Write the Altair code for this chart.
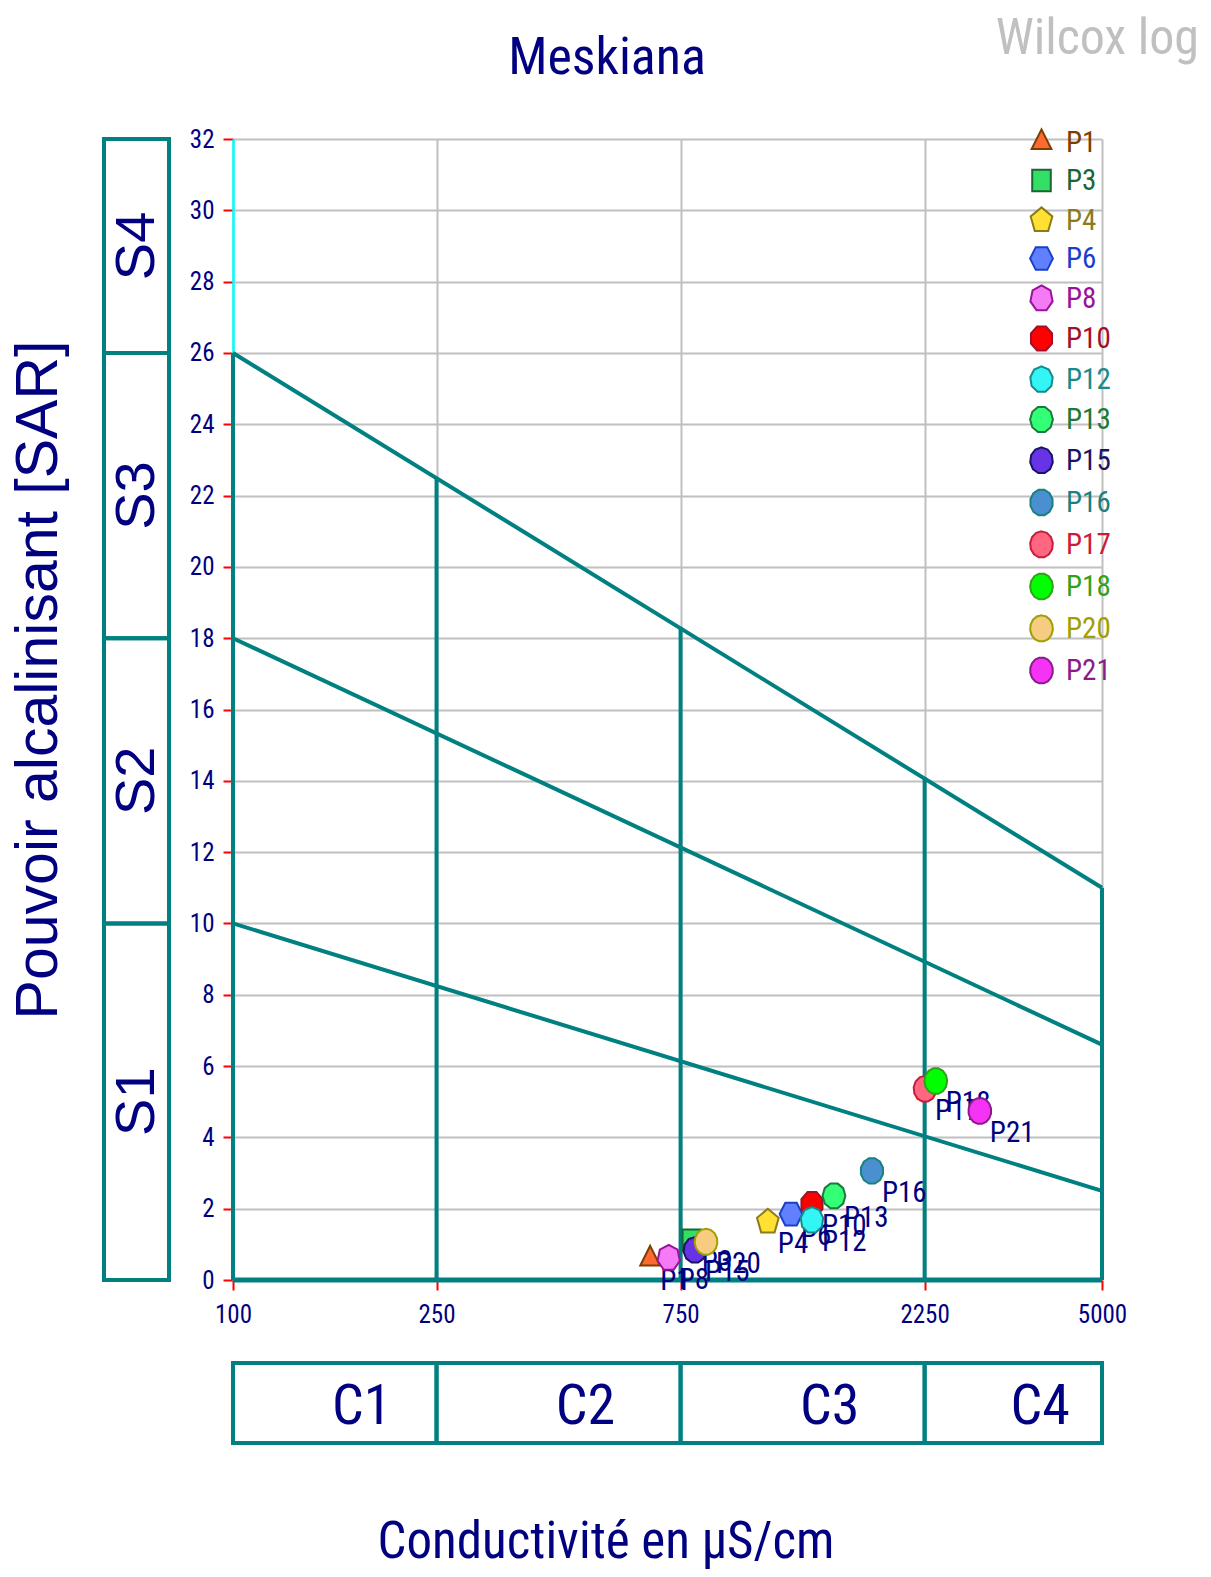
import altair as alt
import pandas as pd
import numpy as np

# ---------------- data ----------------
title_text = "Meskiana"
watermark = "Wilcox log"
x_title = "Conductivité en µS/cm"
y_title = "Pouvoir alcalinisant [SAR]"

names = ["P1", "P3", "P4", "P6", "P8", "P10", "P12", "P13", "P15", "P16", "P17", "P18", "P20", "P21"]
ec = [654, 789, 1111, 1233, 711, 1355, 1355, 1496, 800, 1775, 2254, 2366, 841, 2885]
sar = [0.59, 1.12, 1.63, 1.85, 0.62, 2.13, 1.68, 2.36, 0.84, 3.06, 5.36, 5.58, 1.07, 4.74]
fill_colors = ["#FF6A33", "#33E066", "#FFE033", "#6080FF", "#F57AF5", "#FF0000", "#33F5F5",
               "#33FF77", "#6633E6", "#4A90D0", "#FF6680", "#00FF00", "#F5CC80", "#F533F5"]
stroke_colors = ["#7B3F00", "#1A6633", "#8B7B1A", "#1A3FCC", "#99129A", "#A0102A", "#158B8B",
                 "#1A7A3A", "#1A1466", "#1A8080", "#CC1A3A", "#33A01A", "#A0A000", "#8B1A8B"]
n_sides = [3, 4, 5, 6, 7, 8, 9, 10, 11, 12, 13, 14, 15, 16]

x_ticks = [100, 250, 750, 2250, 5000]
y_ticks = list(range(0, 33, 2))
c_names = ["C1", "C2", "C3", "C4"]
c_bounds = [100, 250, 750, 2250, 5000]
s_names = ["S1", "S2", "S3", "S4"]
s_bounds = [0, 10, 18, 26, 32]
wl_start = [10, 18, 26]      # SAR at 100 µS/cm
wl_end = [2.5, 6.6, 11.0]    # SAR at 5000 µS/cm
v_tops = [26, 22.5, 18.3, 14.1, 11.0]

# ---------------- styles ----------------
TEAL = "#008080"
NAVY = "#000080"
NARROW = "Liberation Sans Narrow, Arial Narrow, Roboto Condensed, DejaVu Sans Condensed, sans-serif"
SANS = "Liberation Sans, Arial, sans-serif"
LW = 4


def poly_path(n, sy=1.15):
    start = -np.pi / 2 if n % 2 else -np.pi / 2 + np.pi / n
    r = 1.15 if n == 4 else 1.0
    pts = []
    for k in range(n):
        a = start + 2 * np.pi * k / n
        pts.append((r * np.cos(a), r * np.sin(a) * sy))
    return "M" + " L".join(f"{x:.3f},{y:.3f}" for x, y in pts) + " Z"


paths = [poly_path(n) for n in n_sides]

xscale = alt.Scale(type="log", domain=[100, 5000], nice=False)
yscale = alt.Scale(domain=[0, 32], nice=False, zero=False)

pts = pd.DataFrame({"name": names, "ec": ec, "sar": sar})

cond = ""
for n, c in zip(names, stroke_colors):
    cond += f"datum.label === '{n}' ? '{c}' : "
cond += f"'{NAVY}'"

leg = alt.Legend(title=None, orient="none", legendX=794, legendY=-11,
                 labelFontSize=29, labelFont=NARROW, labelColor={"expr": cond},
                 symbolSize=520, symbolStrokeWidth=2, rowPadding=7, labelOffset=10,
                 padding=0, symbolOpacity=1)

x_axis = alt.Axis(values=x_ticks, title=None, grid=True, gridColor="#C0C0C0", gridWidth=2,
                  tickColor="red", tickSize=10, tickWidth=2, labelFontSize=25, labelColor=NAVY,
                  labelFont=NARROW, labelPadding=12, domain=False, labelFlush=False,
                  labelOverlap=False, labelBound=False, format="d")
y_axis = alt.Axis(values=y_ticks, title=None, grid=True, gridColor="#C0C0C0", gridWidth=2,
                  tickColor="red", tickSize=10, tickWidth=2, labelFontSize=25, labelColor=NAVY,
                  labelFont=NARROW, labelPadding=9, domainColor="#00FFFF", domainWidth=2.5,
                  labelFlush=False, labelOverlap=False, labelBound=False)


def X(field, **kw):
    return alt.X(field, scale=xscale, axis=x_axis, **kw)


def Y(field, **kw):
    return alt.Y(field, scale=yscale, axis=y_axis, **kw)


# axes / grid carrier
axes_layer = alt.Chart(pts).mark_point(opacity=0).encode(x=X("ec:Q"), y=Y("sar:Q"))

# Wilcox diagonal lines
rows = []
for i in range(len(wl_start)):
    rows.append({"id": i, "ec": c_bounds[0], "sar": wl_start[i]})
    rows.append({"id": i, "ec": c_bounds[-1], "sar": wl_end[i]})
lines = alt.Chart(pd.DataFrame(rows)).mark_line(color=TEAL, strokeWidth=LW).encode(
    x=X("ec:Q"), y=Y("sar:Q"), detail="id:N",
)

# vertical class limits
vdf = pd.DataFrame({"ec": c_bounds, "top": v_tops, "base": [0] * len(c_bounds)})
vrules = alt.Chart(vdf).mark_rule(color=TEAL, strokeWidth=LW).encode(
    x=X("ec:Q"), y=Y("base:Q"), y2="top:Q",
)

# bottom line
bdf = pd.DataFrame({"x1": [c_bounds[0]], "x2": [c_bounds[-1]], "y": [0]})
brule = alt.Chart(bdf).mark_rule(color=TEAL, strokeWidth=5).encode(
    x=X("x1:Q"), x2="x2:Q", y=Y("y:Q"),
)

# S boxes
sdf = pd.DataFrame({"name": s_names, "lo": s_bounds[:-1], "hi": s_bounds[1:]})
sdf["mid"] = (sdf["lo"] + sdf["hi"]) / 2
sbox = alt.Chart(sdf).mark_rect(fillOpacity=0, stroke=TEAL, strokeWidth=LW).encode(
    y=Y("lo:Q"), y2="hi:Q", x=alt.value(-129), x2=alt.value(-64),
)
stext = alt.Chart(sdf).mark_text(angle=270, fontSize=56, font=SANS, color=NAVY,
                                 align="center", baseline="middle").encode(
    y=Y("mid:Q"), x=alt.value(-96), text="name:N",
)

# C boxes
cdf = pd.DataFrame({"name": c_names, "lo": c_bounds[:-1], "hi": c_bounds[1:]})
cdf["gm"] = np.sqrt(cdf["lo"] * cdf["hi"])
cbox = alt.Chart(cdf).mark_rect(fillOpacity=0, stroke=TEAL, strokeWidth=LW).encode(
    x=X("lo:Q"), x2="hi:Q", y=alt.value(1224), y2=alt.value(1304),
)
ctext = alt.Chart(cdf).mark_text(fontSize=56, font=NARROW, color=NAVY, dx=27,
                                 align="center", baseline="middle").encode(
    x=X("gm:Q"), y=alt.value(1268), text="name:N",
)

# point labels
labels = alt.Chart(pts).mark_text(align="left", baseline="middle", dx=10, dy=22,
                                  fontSize=29, font=NARROW, color=NAVY).encode(
    x=X("ec:Q"), y=Y("sar:Q"), text="name:N",
)

# points
points = alt.Chart(pts).mark_point(filled=True, size=520, strokeWidth=2, opacity=1).encode(
    x=X("ec:Q"), y=Y("sar:Q"),
    shape=alt.Shape("name:N", scale=alt.Scale(domain=names, range=paths), legend=leg),
    fill=alt.Fill("name:N", scale=alt.Scale(domain=names, range=fill_colors), legend=leg),
    stroke=alt.Stroke("name:N", scale=alt.Scale(domain=names, range=stroke_colors), legend=leg),
)

# texts: title, watermark, axis titles
tdf = pd.DataFrame({"t": [title_text]})
title_m = alt.Chart(tdf).mark_text(fontSize=52, font=NARROW, color=NAVY, align="center",
                                   baseline="middle").encode(
    x=alt.value(374), y=alt.value(-81), text="t:N")
wdf = pd.DataFrame({"t": [watermark]})
water_m = alt.Chart(wdf).mark_text(fontSize=50, font=NARROW, color="#C0C0C0", align="right",
                                   baseline="middle").encode(
    x=alt.value(966), y=alt.value(-100), text="t:N")
xdf = pd.DataFrame({"t": [x_title]})
xt_m = alt.Chart(xdf).mark_text(fontSize=51, font=NARROW, color=NAVY, align="center",
                                baseline="middle").encode(
    x=alt.value(373), y=alt.value(1404), text="t:N")
ydf = pd.DataFrame({"t": [y_title]})
yt_m = alt.Chart(ydf).mark_text(fontSize=59, font=SANS, color=NAVY, align="center",
                                baseline="middle", angle=270).encode(
    x=alt.value(-194), y=alt.value(541), text="t:N")

chart = alt.layer(
    axes_layer, sbox, stext, cbox, ctext, lines, vrules, brule, labels, points,
    title_m, water_m, xt_m, yt_m,
).properties(
    width=869, height=1141,
    padding={"left": 225, "top": 131, "right": 100, "bottom": 289},
    autosize=alt.AutoSizeParams(type="none"),
    background="white",
).configure_view(stroke=None)

chart.save("out.html", embed_options={"renderer": "svg", "actions": False})
